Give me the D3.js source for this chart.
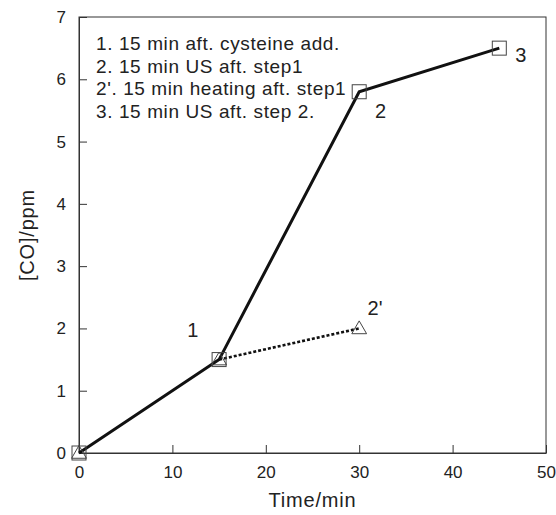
<!DOCTYPE html>
<html lang="en">
<head>
<meta charset="UTF-8">
<title>CO vs time</title>
<script src="https://d3js.org/d3.v7.min.js"></script>
<style>
    body { margin: 0; background: #fff; }
    text { font-family: "Liberation Sans", Arial, sans-serif; fill: #222; }
</style>
</head>
<body>
<div id="chart"></div>
<script>
    // data
    var usTimes = [0, 15, 30, 45];
    var usCO = [0, 1.5, 5.8, 6.5];
    var heatTimes = [0, 15, 30];
    var heatCO = [0, 1.5, 2.0];
    var xTicks = [0, 10, 20, 30, 40, 50];
    var yTicks = [0, 1, 2, 3, 4, 5, 6, 7];
    var legendLines = ["1. 15 min aft. cysteine add.", "2. 15 min US aft. step1",
        "2'. 15 min heating aft. step1", "3. 15 min US aft. step 2."];
    var pointLabels = [
        {t: "1", x: 11.6, y: 1.86},
        {t: "2", x: 31.7, y: 5.38},
        {t: "2'", x: 30.9, y: 2.21},
        {t: "3", x: 46.7, y: 6.28}
    ];

    var W = 556, H = 515;
    var m = {left: 79, right: 10, top: 17, bottom: 62};
    var svg = d3.select("#chart").append("svg").attr("width", W).attr("height", H);

    var x = d3.scaleLinear().domain([0, 50]).range([m.left, W - m.right]);
    var y = d3.scaleLinear().domain([0, 7]).range([H - m.bottom, m.top]);

    // frame
    svg.append("rect").attr("x", x(0)).attr("y", y(7))
        .attr("width", x(50) - x(0)).attr("height", y(0) - y(7))
        .attr("fill", "none").attr("stroke", "#333").attr("stroke-width", 1);

    // axes, ticks pointing in
    var xAxis = svg.append("g").attr("transform", "translate(0," + y(0) + ")")
        .call(d3.axisBottom(x).tickValues(xTicks).tickFormat(d3.format("d"))
            .tickSizeInner(-8).tickSizeOuter(0).tickPadding(13));
    var yAxis = svg.append("g").attr("transform", "translate(" + x(0) + ",0)")
        .call(d3.axisLeft(y).tickValues(yTicks).tickFormat(d3.format("d"))
            .tickSizeInner(-8).tickSizeOuter(0).tickPadding(13));
    [xAxis, yAxis].forEach(function (a) {
        a.select(".domain").attr("stroke", "#333");
        a.selectAll(".tick line").attr("stroke", "#333");
        a.selectAll(".tick text").attr("font-size", 17).attr("fill", "#222")
            .attr("font-family", "Liberation Sans, Arial, sans-serif");
    });

    svg.append("text").attr("x", x(25)).attr("y", 507).attr("text-anchor", "middle")
        .attr("font-size", 20).attr("letter-spacing", 0.8).text("Time/min");
    svg.append("text").attr("transform", "translate(34," + y(3.5) + ") rotate(-90)")
        .attr("text-anchor", "middle").attr("font-size", 20).attr("letter-spacing", 0.8).text("[CO]/ppm");

    var us = usTimes.map(function (t, i) { return [t, usCO[i]]; });
    var heat = heatTimes.map(function (t, i) { return [t, heatCO[i]]; });
    var line = d3.line().x(function (d) { return x(d[0]); }).y(function (d) { return y(d[1]); });

    svg.append("path").datum(heat.slice(1)).attr("d", line).attr("fill", "none")
        .attr("stroke", "#111").attr("stroke-width", 2.6).attr("stroke-dasharray", "3,2");
    svg.append("path").datum(us).attr("d", line).attr("fill", "none")
        .attr("stroke", "#111").attr("stroke-width", 3);

    // markers
    svg.selectAll(".sq").data(us).enter().append("rect")
        .attr("x", function (d) { return x(d[0]) - 7; })
        .attr("y", function (d) { return y(d[1]) - 7; })
        .attr("width", 14).attr("height", 14)
        .attr("fill", "none").attr("stroke", "#444").attr("stroke-width", 1);
    svg.selectAll(".tri").data(heat).enter().append("path")
        .attr("transform", function (d) { return "translate(" + x(d[0]) + "," + (y(d[1]) + 1) + ")"; })
        .attr("d", d3.symbol().type(d3.symbolTriangle).size(95))
        .attr("fill", "none").attr("stroke", "#444").attr("stroke-width", 1);

    // legend text
    svg.selectAll(".leg").data(legendLines).enter().append("text")
        .attr("x", 96).attr("y", function (d, i) { return 50 + i * 22.5; })
        .attr("font-size", 19).attr("letter-spacing", 0.6).text(function (d) { return d; });

    svg.selectAll(".pl").data(pointLabels).enter().append("text")
        .attr("x", function (d) { return x(d.x); }).attr("y", function (d) { return y(d.y); })
        .attr("font-size", 20).text(function (d) { return d.t; });
</script>
</body>
</html>
